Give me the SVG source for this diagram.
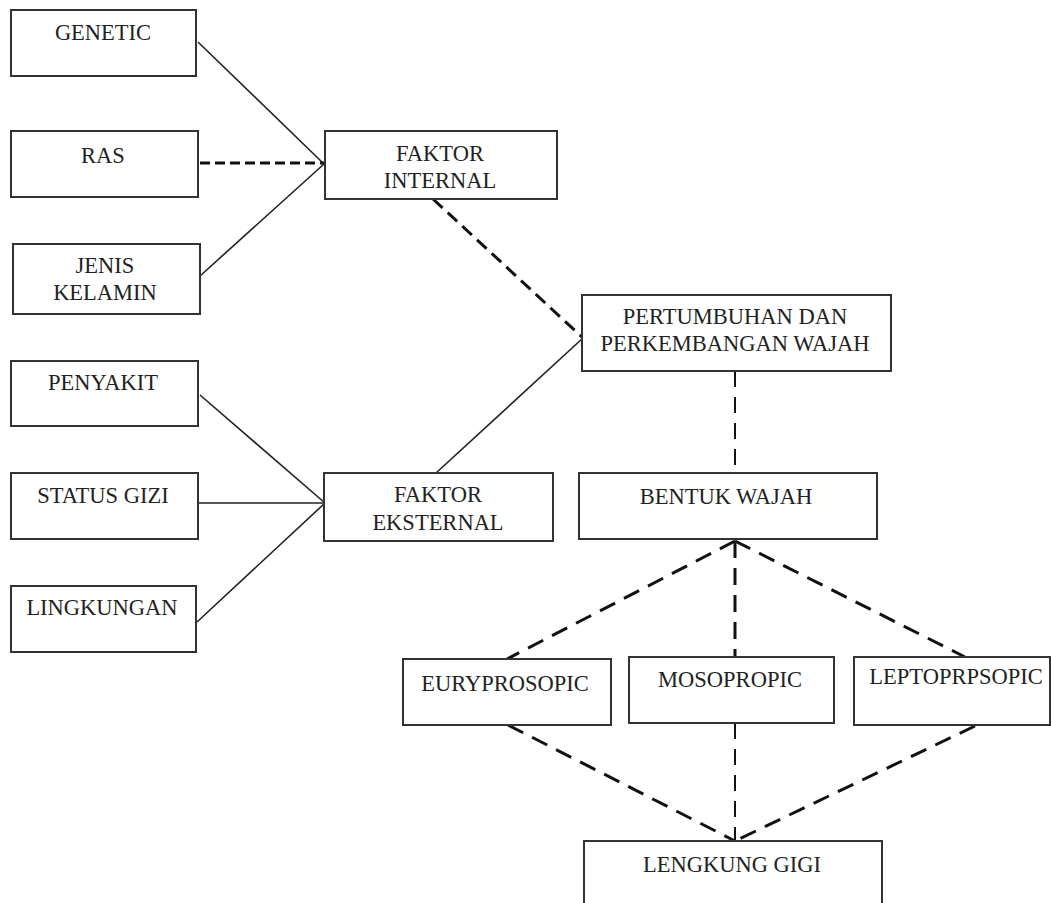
<svg xmlns="http://www.w3.org/2000/svg" width="1051" height="903" viewBox="0 0 1051 903">
<style>
.box{fill:#fff;stroke:#333;stroke-width:2}
.t{font-family:"Liberation Serif","Times New Roman",serif;font-size:22.5px;fill:#222;text-anchor:middle}
.solid{stroke:#222;stroke-width:1.6;fill:none}
.d1{stroke:#111;stroke-width:3;stroke-dasharray:10 5;fill:none}
.d2{stroke:#111;stroke-width:3;stroke-dasharray:13 7;fill:none}
.d3{stroke:#111;stroke-width:2;stroke-dasharray:16 10;fill:none}
.d4{stroke:#111;stroke-width:3;stroke-dasharray:17 10;fill:none}
</style>
<rect width="1051" height="903" fill="#fff"/>
<g id="connectors">
<line class="solid" x1="198" y1="42" x2="324" y2="164"/>
<line class="solid" x1="200" y1="276" x2="324" y2="164"/>
<line class="d1" x1="200" y1="163" x2="324" y2="163"/>
<line class="solid" x1="200" y1="395" x2="325" y2="503"/>
<line class="solid" x1="199" y1="503" x2="325" y2="503"/>
<line class="solid" x1="197" y1="622" x2="325" y2="503"/>
<line class="solid" x1="436" y1="473" x2="583" y2="338"/>
<line class="d2" x1="433" y1="199" x2="583" y2="338"/>
<line class="d3" x1="735" y1="371" x2="735" y2="473"/>
<line class="d4" x1="735" y1="541" x2="507" y2="659"/>
<line class="d4" x1="735" y1="541" x2="735" y2="657"/>
<line class="d4" x1="735" y1="541" x2="965" y2="657"/>
<line class="d4" x1="508" y1="725" x2="735" y2="841"/>
<line class="d3" x1="735" y1="723" x2="735" y2="841"/>
<line class="d4" x1="975" y1="726" x2="735" y2="841"/>
</g>
<g id="genetic"><rect class="box" x="11" y="10" width="185" height="66"/><text class="t" x="103" y="40">GENETIC</text></g>
<g id="ras"><rect class="box" x="11" y="131" width="187" height="66"/><text class="t" x="103" y="163">RAS</text></g>
<g id="jenis-kelamin"><rect class="box" x="13" y="244" width="187" height="70"/><text class="t" x="105" y="273">JENIS</text><text class="t" x="105" y="300">KELAMIN</text></g>
<g id="faktor-internal"><rect class="box" x="325" y="131" width="232" height="68"/><text class="t" x="440" y="161">FAKTOR</text><text class="t" x="440" y="188">INTERNAL</text></g>
<g id="penyakit"><rect class="box" x="11" y="361" width="187" height="65"/><text class="t" x="103" y="390">PENYAKIT</text></g>
<g id="status-gizi"><rect class="box" x="11" y="473" width="187" height="66"/><text class="t" x="103" y="503">STATUS GIZI</text></g>
<g id="lingkungan"><rect class="box" x="11" y="586" width="185" height="66"/><text class="t" x="102" y="615">LINGKUNGAN</text></g>
<g id="faktor-eksternal"><rect class="box" x="324" y="473" width="229" height="68"/><text class="t" x="438" y="502">FAKTOR</text><text class="t" x="438" y="530">EKSTERNAL</text></g>
<g id="pertumbuhan"><rect class="box" x="582" y="295" width="309" height="76"/><text class="t" x="735" y="324">PERTUMBUHAN DAN</text><text class="t" x="735" y="351">PERKEMBANGAN WAJAH</text></g>
<g id="bentuk-wajah"><rect class="box" x="579" y="473" width="298" height="66"/><text class="t" x="726" y="504">BENTUK WAJAH</text></g>
<g id="euryprosopic"><rect class="box" x="403" y="659" width="208" height="66"/><text class="t" x="505" y="691">EURYPROSOPIC</text></g>
<g id="mosopropic"><rect class="box" x="629" y="657" width="205" height="66"/><text class="t" x="730" y="687">MOSOPROPIC</text></g>
<g id="leptoprpsopic"><rect class="box" x="854" y="657" width="196" height="68"/><text class="t" x="956" y="684">LEPTOPRPSOPIC</text></g>
<g id="lengkung-gigi"><rect class="box" x="584" y="841" width="298" height="75"/><text class="t" x="732" y="872">LENGKUNG GIGI</text></g>
</svg>
